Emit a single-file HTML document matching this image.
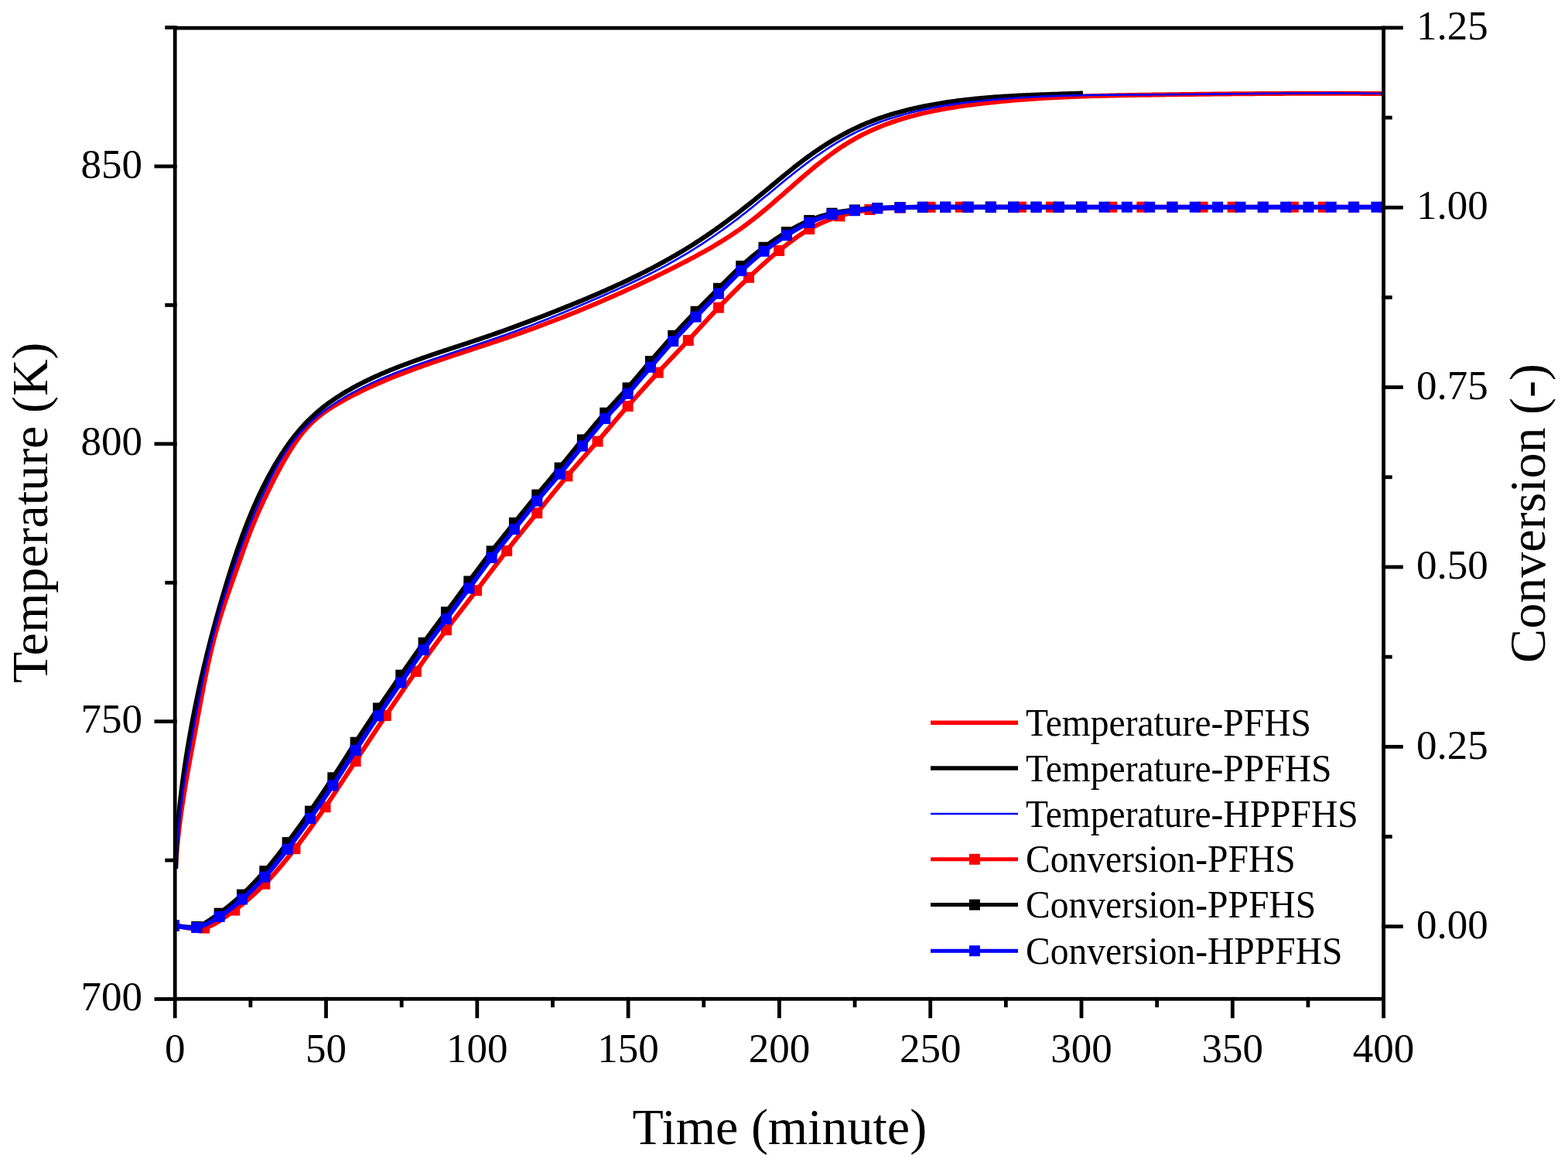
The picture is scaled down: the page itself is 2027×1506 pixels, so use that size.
<!DOCTYPE html>
<html><head><meta charset="utf-8"><title>Temperature and Conversion vs Time</title>
<style>html,body{margin:0;padding:0;background:#fff;overflow:hidden}svg{display:block}</style>
</head><body>
<div id="w">
<svg width="2027" height="1506" viewBox="0 0 2027 1506" font-family="'Liberation Serif', 'Times New Roman', serif" fill="#000">
<defs><clipPath id="pa"><rect x="226.20" y="36.20" width="1562.40" height="1255.10"/></clipPath></defs>
<rect width="2027" height="1506" fill="#fff"/>
<g clip-path="url(#pa)">
<path d="M227.07,1123.00 L227.24,1119.48 L227.44,1115.97 L227.65,1112.46 L227.89,1108.96 L228.14,1105.45 L228.41,1101.95 L228.70,1098.45 L229.00,1094.96 L229.32,1091.46 L229.66,1087.97 L230.01,1084.48 L230.38,1080.99 L230.76,1077.50 L231.16,1074.02 L231.57,1070.54 L231.99,1067.06 L232.43,1063.58 L232.88,1060.10 L233.35,1056.63 L233.82,1053.16 L234.31,1049.68 L234.81,1046.21 L235.32,1042.74 L235.84,1039.28 L236.36,1035.81 L236.90,1032.35 L237.45,1028.88 L238.01,1025.42 L238.57,1021.96 L239.14,1018.50 L239.72,1015.04 L240.31,1011.58 L240.90,1008.12 L241.50,1004.66 L242.11,1001.20 L242.72,997.75 L243.33,994.29 L243.95,990.84 L244.58,987.38 L245.20,983.93 L245.83,980.47 L246.47,977.02 L247.10,973.57 L247.74,970.11 L248.38,966.66 L249.02,963.21 L249.66,959.75 L250.30,956.30 L250.94,952.85 L251.58,949.39 L252.22,945.94 L252.86,942.48 L253.50,939.03 L254.13,935.57 L254.76,932.11 L255.39,928.66 L256.03,925.20 L256.66,921.75 L257.29,918.29 L257.93,914.83 L258.56,911.38 L259.20,907.92 L259.85,904.47 L260.49,901.02 L261.14,897.57 L261.80,894.12 L262.46,890.67 L263.13,887.22 L263.80,883.78 L264.48,880.33 L265.17,876.89 L265.87,873.45 L266.57,870.02 L267.29,866.58 L268.01,863.15 L268.75,859.72 L269.50,856.30 L270.26,852.87 L271.03,849.45 L271.82,846.04 L272.61,842.62 L273.43,839.21 L274.25,835.81 L275.10,832.41 L275.95,829.01 L276.83,825.61 L277.72,822.23 L278.63,818.84 L279.56,815.46 L280.50,812.09 L281.47,808.72 L282.45,805.35 L283.46,801.99 L284.48,798.63 L285.52,795.28 L286.58,791.94 L287.66,788.60 L288.74,785.26 L289.85,781.92 L290.96,778.59 L292.09,775.26 L293.22,771.94 L294.37,768.61 L295.52,765.29 L296.69,761.98 L297.85,758.66 L299.03,755.35 L300.20,752.03 L301.38,748.72 L302.56,745.41 L303.75,742.10 L304.93,738.79 L306.11,735.48 L307.29,732.18 L308.46,728.87 L309.64,725.56 L310.81,722.25 L311.98,718.94 L313.15,715.63 L314.32,712.33 L315.50,709.03 L316.69,705.73 L317.88,702.44 L319.09,699.15 L320.31,695.86 L321.54,692.59 L322.78,689.31 L324.04,686.05 L325.32,682.79 L326.62,679.54 L327.95,676.30 L329.29,673.07 L330.65,669.85 L332.03,666.63 L333.43,663.42 L334.84,660.22 L336.28,657.03 L337.73,653.84 L339.19,650.66 L340.67,647.49 L342.16,644.32 L343.66,641.16 L345.17,638.00 L346.70,634.85 L348.24,631.71 L349.78,628.57 L351.34,625.43 L352.92,622.31 L354.50,619.19 L356.11,616.08 L357.73,612.97 L359.36,609.88 L361.02,606.79 L362.69,603.71 L364.39,600.65 L366.11,597.59 L367.85,594.55 L369.61,591.51 L371.40,588.49 L373.21,585.48 L375.05,582.48 L376.92,579.50 L378.83,576.54 L380.77,573.61 L382.75,570.71 L384.77,567.84 L386.84,565.01 L388.96,562.23 L391.13,559.49 L393.35,556.81 L395.64,554.18 L397.98,551.61 L400.39,549.11 L402.86,546.67 L405.39,544.30 L407.99,541.99 L410.64,539.75 L413.34,537.57 L416.10,535.44 L418.90,533.36 L421.75,531.34 L424.64,529.37 L427.56,527.44 L430.52,525.55 L433.51,523.71 L436.53,521.90 L439.58,520.13 L442.64,518.39 L445.72,516.68 L448.82,514.99 L451.93,513.34 L455.05,511.70 L458.18,510.09 L461.33,508.51 L464.48,506.94 L467.64,505.39 L470.80,503.87 L473.98,502.37 L477.17,500.88 L480.36,499.42 L483.57,497.97 L486.78,496.55 L490.00,495.14 L493.22,493.75 L496.46,492.37 L499.70,491.01 L502.94,489.67 L506.19,488.34 L509.45,487.03 L512.72,485.73 L515.99,484.45 L519.26,483.18 L522.54,481.92 L525.83,480.68 L529.12,479.44 L532.41,478.22 L535.71,477.01 L539.01,475.80 L542.31,474.61 L545.62,473.43 L548.93,472.25 L552.24,471.09 L555.56,469.93 L558.87,468.78 L562.19,467.63 L565.51,466.50 L568.83,465.36 L572.16,464.24 L575.48,463.11 L578.80,461.99 L582.13,460.88 L585.45,459.77 L588.78,458.66 L592.11,457.55 L595.43,456.45 L598.76,455.35 L602.09,454.25 L605.41,453.15 L608.74,452.05 L612.07,450.95 L615.40,449.86 L618.72,448.76 L622.05,447.66 L625.38,446.56 L628.70,445.46 L632.03,444.35 L635.35,443.25 L638.67,442.14 L642.00,441.03 L645.32,439.91 L648.64,438.79 L651.96,437.67 L655.28,436.54 L658.59,435.40 L661.91,434.26 L665.22,433.12 L668.54,431.97 L671.85,430.81 L675.16,429.64 L678.46,428.47 L681.77,427.29 L685.07,426.10 L688.37,424.90 L691.67,423.70 L694.97,422.48 L698.27,421.26 L701.56,420.03 L704.85,418.80 L708.14,417.56 L711.42,416.31 L714.71,415.05 L717.99,413.78 L721.27,412.51 L724.54,411.23 L727.81,409.95 L731.08,408.66 L734.35,407.36 L737.61,406.05 L740.87,404.74 L744.12,403.42 L747.37,402.10 L750.62,400.76 L753.87,399.43 L757.11,398.08 L760.35,396.73 L763.58,395.38 L766.81,394.02 L770.04,392.65 L773.26,391.28 L776.48,389.90 L779.70,388.51 L782.91,387.12 L786.12,385.72 L789.32,384.32 L792.53,382.91 L795.73,381.49 L798.92,380.07 L802.12,378.64 L805.31,377.20 L808.50,375.76 L811.68,374.31 L814.86,372.86 L818.04,371.39 L821.22,369.93 L824.39,368.45 L827.57,366.97 L830.74,365.48 L833.91,363.98 L837.07,362.48 L840.23,360.97 L843.40,359.46 L846.56,357.93 L849.71,356.40 L852.87,354.87 L856.02,353.32 L859.18,351.77 L862.33,350.21 L865.47,348.65 L868.62,347.07 L871.77,345.49 L874.91,343.91 L878.05,342.31 L881.19,340.70 L884.33,339.09 L887.46,337.47 L890.59,335.83 L893.71,334.19 L896.82,332.53 L899.93,330.86 L903.03,329.18 L906.12,327.48 L909.20,325.77 L912.28,324.05 L915.34,322.31 L918.39,320.56 L921.43,318.79 L924.46,317.00 L927.48,315.20 L930.49,313.38 L933.48,311.54 L936.45,309.68 L939.41,307.81 L942.36,305.91 L945.29,303.99 L948.20,302.06 L951.10,300.10 L953.97,298.11 L956.83,296.11 L959.67,294.08 L962.49,292.03 L965.29,289.96 L968.07,287.86 L970.83,285.74 L973.58,283.61 L976.31,281.45 L979.03,279.28 L981.74,277.09 L984.43,274.89 L987.12,272.67 L989.79,270.43 L992.46,268.19 L995.11,265.93 L997.76,263.66 L1000.41,261.39 L1003.05,259.10 L1005.68,256.81 L1008.31,254.51 L1010.95,252.20 L1013.58,249.90 L1016.21,247.58 L1018.84,245.27 L1021.47,242.95 L1024.11,240.64 L1026.75,238.32 L1029.40,236.01 L1032.06,233.70 L1034.72,231.39 L1037.39,229.09 L1040.07,226.79 L1042.76,224.50 L1045.46,222.22 L1048.17,219.94 L1050.90,217.68 L1053.64,215.43 L1056.40,213.20 L1059.16,210.98 L1061.95,208.78 L1064.74,206.59 L1067.56,204.43 L1070.38,202.29 L1073.23,200.18 L1076.09,198.10 L1078.96,196.04 L1081.86,194.01 L1084.77,192.01 L1087.70,190.05 L1090.64,188.13 L1093.61,186.24 L1096.59,184.39 L1099.59,182.58 L1102.61,180.81 L1105.65,179.09 L1108.71,177.41 L1111.79,175.77 L1114.88,174.17 L1117.99,172.61 L1121.12,171.09 L1124.27,169.61 L1127.43,168.17 L1130.61,166.77 L1133.81,165.40 L1137.02,164.07 L1140.24,162.78 L1143.48,161.52 L1146.74,160.29 L1150.00,159.10 L1153.29,157.94 L1156.58,156.82 L1159.88,155.72 L1163.20,154.66 L1166.53,153.63 L1169.87,152.63 L1173.23,151.65 L1176.59,150.71 L1179.96,149.79 L1183.35,148.91 L1186.74,148.04 L1190.14,147.21 L1193.55,146.40 L1196.97,145.61 L1200.40,144.85 L1203.83,144.11 L1207.27,143.40 L1210.72,142.71 L1214.17,142.04 L1217.63,141.39 L1221.10,140.76 L1224.57,140.15 L1228.05,139.55 L1231.53,138.98 L1235.01,138.43 L1238.50,137.89 L1241.99,137.37 L1245.48,136.86 L1248.98,136.37 L1252.48,135.89 L1255.98,135.43 L1259.48,134.98 L1262.98,134.55 L1266.48,134.12 L1269.98,133.71 L1273.49,133.31 L1276.99,132.91 L1280.49,132.53 L1283.99,132.16 L1287.49,131.80 L1290.99,131.45 L1294.50,131.11 L1298.00,130.77 L1301.50,130.45 L1305.00,130.14 L1308.50,129.83 L1312.00,129.54 L1315.50,129.25 L1319.00,128.97 L1322.50,128.70 L1326.00,128.44 L1329.50,128.18 L1333.00,127.94 L1336.49,127.70 L1339.99,127.47 L1343.49,127.25 L1346.99,127.03 L1350.49,126.82 L1353.99,126.62 L1357.49,126.43 L1360.99,126.24 L1364.49,126.06 L1367.99,125.88 L1371.49,125.71 L1374.98,125.55 L1378.48,125.39 L1381.98,125.24 L1385.48,125.10 L1388.98,124.96 L1392.48,124.82 L1395.98,124.69 L1399.48,124.57 L1402.98,124.45 L1406.48,124.34 L1409.98,124.23 L1413.48,124.12 L1416.98,124.02 L1420.48,123.92 L1423.98,123.83 L1427.48,123.74 L1430.98,123.65 L1434.49,123.57 L1437.99,123.49 L1441.49,123.41 L1444.99,123.34 L1448.49,123.27 L1452.00,123.20 L1455.50,123.13 L1459.00,123.07 L1462.51,123.01 L1466.01,122.95 L1469.51,122.89 L1473.02,122.84 L1476.52,122.78 L1480.03,122.73 L1483.54,122.68 L1487.04,122.63 L1490.55,122.58 L1494.05,122.53 L1497.56,122.48 L1501.07,122.43 L1504.58,122.39 L1508.09,122.34 L1511.60,122.29 L1515.11,122.25 L1518.62,122.20 L1522.13,122.16 L1525.64,122.11 L1529.15,122.07 L1532.66,122.02 L1536.17,121.98 L1539.68,121.94 L1543.19,121.90 L1546.71,121.85 L1550.22,121.81 L1553.73,121.77 L1557.24,121.73 L1560.76,121.69 L1564.27,121.65 L1567.79,121.62 L1571.30,121.58 L1574.81,121.54 L1578.33,121.50 L1581.84,121.47 L1585.36,121.43 L1588.87,121.40 L1592.39,121.37 L1595.90,121.33 L1599.42,121.30 L1602.93,121.27 L1606.45,121.24 L1609.96,121.21 L1613.48,121.18 L1616.99,121.15 L1620.51,121.13 L1624.02,121.10 L1627.54,121.07 L1631.05,121.05 L1634.57,121.02 L1638.08,121.00 L1641.60,120.98 L1645.11,120.96 L1648.63,120.94 L1652.14,120.92 L1655.66,120.90 L1659.17,120.88 L1662.68,120.87 L1666.20,120.85 L1669.71,120.84 L1673.23,120.83 L1676.74,120.81 L1680.25,120.80 L1683.76,120.79 L1687.28,120.78 L1690.79,120.78 L1694.30,120.77 L1697.81,120.76 L1701.33,120.76 L1704.84,120.76 L1708.35,120.76 L1711.86,120.75 L1715.37,120.76 L1718.88,120.76 L1722.39,120.76 L1725.90,120.76 L1729.41,120.77 L1732.91,120.78 L1736.42,120.79 L1739.93,120.79 L1743.44,120.81 L1746.94,120.82 L1750.45,120.83 L1753.95,120.85 L1757.46,120.86 L1760.96,120.88 L1764.47,120.90 L1767.97,120.92 L1771.47,120.94 L1774.97,120.97 L1778.48,120.99 L1781.98,121.02 L1785.48,121.05 L1788.98,121.08" stroke="#ff0000" stroke-width="6" fill="none" stroke-linejoin="round"/>
<path d="M227.14,1122.95 L227.20,1120.09 L227.28,1117.23 L227.36,1114.37 L227.45,1111.50 L227.55,1108.64 L227.66,1105.78 L227.77,1102.92 L227.90,1100.05 L228.04,1097.19 L228.18,1094.32 L228.34,1091.46 L228.50,1088.59 L228.67,1085.72 L228.85,1082.86 L229.04,1079.99 L229.24,1077.13 L229.44,1074.26 L229.65,1071.39 L229.88,1068.53 L230.11,1065.66 L230.35,1062.79 L230.59,1059.93 L230.85,1057.06 L231.11,1054.19 L231.38,1051.33 L231.66,1048.46 L231.94,1045.60 L232.23,1042.73 L232.54,1039.87 L232.84,1037.00 L233.16,1034.14 L233.48,1031.27 L233.81,1028.41 L234.15,1025.55 L234.49,1022.68 L234.84,1019.82 L235.20,1016.96 L235.57,1014.10 L235.94,1011.24 L236.32,1008.38 L236.70,1005.53 L237.10,1002.67 L237.50,999.81 L237.90,996.96 L238.31,994.10 L238.73,991.25 L239.15,988.40 L239.58,985.54 L240.02,982.69 L240.46,979.84 L240.91,977.00 L241.36,974.15 L241.82,971.30 L242.29,968.46 L242.76,965.61 L243.24,962.77 L243.72,959.93 L244.21,957.09 L244.70,954.26 L245.20,951.42 L245.70,948.58 L246.21,945.75 L246.73,942.92 L247.25,940.09 L247.77,937.26 L248.30,934.44 L248.83,931.61 L249.37,928.79 L249.91,925.97 L250.46,923.15 L251.02,920.33 L251.57,917.51 L252.14,914.69 L252.71,911.88 L253.28,909.07 L253.86,906.26 L254.44,903.45 L255.03,900.64 L255.62,897.83 L256.22,895.03 L256.82,892.23 L257.43,889.42 L258.04,886.62 L258.65,883.82 L259.28,881.03 L259.90,878.23 L260.53,875.43 L261.17,872.64 L261.81,869.85 L262.46,867.06 L263.11,864.27 L263.76,861.48 L264.42,858.69 L265.09,855.90 L265.76,853.12 L266.43,850.33 L267.11,847.55 L267.80,844.77 L268.49,841.99 L269.18,839.21 L269.88,836.43 L270.58,833.65 L271.29,830.87 L272.00,828.10 L272.72,825.32 L273.44,822.55 L274.17,819.78 L274.90,817.00 L275.64,814.23 L276.38,811.46 L277.13,808.70 L277.88,805.93 L278.63,803.16 L279.39,800.39 L280.16,797.63 L280.93,794.86 L281.70,792.10 L282.48,789.34 L283.26,786.57 L284.05,783.81 L284.85,781.05 L285.64,778.29 L286.45,775.53 L287.25,772.77 L288.07,770.02 L288.88,767.26 L289.70,764.50 L290.53,761.75 L291.36,758.99 L292.20,756.24 L293.04,753.48 L293.88,750.73 L294.73,747.98 L295.59,745.22 L296.44,742.47 L297.31,739.72 L298.18,736.97 L299.05,734.22 L299.94,731.48 L300.82,728.73 L301.72,725.99 L302.62,723.25 L303.53,720.51 L304.44,717.77 L305.36,715.03 L306.29,712.30 L307.23,709.57 L308.17,706.84 L309.12,704.12 L310.09,701.40 L311.05,698.68 L312.03,695.97 L313.02,693.26 L314.02,690.55 L315.02,687.85 L316.04,685.15 L317.06,682.45 L318.10,679.76 L319.15,677.08 L320.20,674.40 L321.27,671.72 L322.35,669.05 L323.44,666.38 L324.54,663.72 L325.65,661.07 L326.78,658.42 L327.91,655.77 L329.06,653.14 L330.22,650.50 L331.40,647.88 L332.58,645.26 L333.78,642.65 L335.00,640.04 L336.23,637.44 L337.47,634.85 L338.72,632.27 L339.99,629.69 L341.28,627.12 L342.58,624.56 L343.89,622.00 L345.22,619.46 L346.56,616.92 L347.92,614.39 L349.30,611.87 L350.69,609.36 L352.10,606.85 L353.53,604.36 L354.97,601.87 L356.43,599.40 L357.90,596.93 L359.40,594.47 L360.91,592.03 L362.44,589.59 L363.99,587.17 L365.55,584.76 L367.14,582.37 L368.75,579.98 L370.38,577.62 L372.03,575.27 L373.70,572.94 L375.39,570.63 L377.10,568.33 L378.84,566.06 L380.60,563.80 L382.38,561.57 L384.19,559.35 L386.01,557.16 L387.87,555.00 L389.75,552.85 L391.65,550.73 L393.58,548.64 L395.54,546.57 L397.52,544.53 L399.53,542.52 L401.57,540.54 L403.63,538.58 L405.72,536.66 L407.84,534.76 L409.98,532.89 L412.15,531.05 L414.34,529.23 L416.56,527.44 L418.80,525.68 L421.06,523.95 L423.34,522.23 L425.65,520.55 L427.97,518.89 L430.32,517.25 L432.68,515.64 L435.07,514.05 L437.47,512.48 L439.89,510.94 L442.33,509.42 L444.78,507.92 L447.25,506.44 L449.73,504.98 L452.23,503.55 L454.75,502.13 L457.27,500.74 L459.81,499.36 L462.36,498.01 L464.93,496.67 L467.50,495.35 L470.08,494.05 L472.68,492.77 L475.28,491.50 L477.89,490.25 L480.51,489.02 L483.14,487.80 L485.77,486.60 L488.41,485.42 L491.06,484.25 L493.71,483.09 L496.36,481.95 L499.02,480.82 L501.69,479.70 L504.36,478.60 L507.03,477.51 L509.71,476.44 L512.39,475.37 L515.07,474.32 L517.76,473.27 L520.46,472.24 L523.15,471.22 L525.85,470.21 L528.56,469.20 L531.26,468.21 L533.97,467.22 L536.68,466.25 L539.40,465.28 L542.12,464.32 L544.83,463.36 L547.56,462.41 L550.28,461.47 L553.00,460.53 L555.73,459.60 L558.46,458.68 L561.19,457.76 L563.92,456.84 L566.65,455.93 L569.38,455.02 L572.11,454.11 L574.85,453.21 L577.58,452.31 L580.32,451.41 L583.05,450.51 L585.79,449.61 L588.52,448.71 L591.26,447.82 L593.99,446.92 L596.72,446.03 L599.46,445.13 L602.19,444.23 L604.92,443.33 L607.65,442.43 L610.38,441.52 L613.10,440.62 L615.83,439.70 L618.55,438.79 L621.27,437.87 L623.99,436.95 L626.71,436.02 L629.43,435.09 L632.14,434.16 L634.85,433.22 L637.56,432.27 L640.27,431.32 L642.97,430.37 L645.68,429.42 L648.38,428.46 L651.08,427.49 L653.78,426.53 L656.48,425.55 L659.18,424.58 L661.87,423.60 L664.57,422.62 L667.26,421.63 L669.95,420.64 L672.64,419.64 L675.33,418.65 L678.02,417.64 L680.70,416.64 L683.39,415.63 L686.07,414.62 L688.76,413.60 L691.44,412.58 L694.12,411.56 L696.80,410.53 L699.48,409.50 L702.16,408.46 L704.84,407.43 L707.52,406.39 L710.19,405.34 L712.87,404.29 L715.54,403.24 L718.22,402.19 L720.89,401.13 L723.57,400.07 L726.24,399.01 L728.91,397.94 L731.59,396.87 L734.26,395.79 L736.93,394.71 L739.59,393.63 L742.26,392.54 L744.93,391.45 L747.59,390.36 L750.26,389.26 L752.92,388.15 L755.58,387.05 L758.24,385.93 L760.89,384.81 L763.55,383.69 L766.20,382.56 L768.85,381.43 L771.50,380.29 L774.14,379.14 L776.79,377.99 L779.43,376.84 L782.07,375.68 L784.70,374.51 L787.33,373.34 L789.96,372.16 L792.59,370.97 L795.21,369.78 L797.83,368.58 L800.45,367.38 L803.06,366.17 L805.67,364.95 L808.28,363.72 L810.88,362.49 L813.48,361.25 L816.08,360.01 L818.67,358.75 L821.26,357.49 L823.84,356.22 L826.42,354.95 L829.00,353.66 L831.57,352.37 L834.13,351.07 L836.69,349.76 L839.25,348.45 L841.80,347.12 L844.35,345.79 L846.89,344.45 L849.43,343.10 L851.96,341.74 L854.49,340.38 L857.01,339.00 L859.53,337.61 L862.04,336.22 L864.54,334.82 L867.04,333.40 L869.53,331.98 L872.02,330.55 L874.50,329.10 L876.98,327.65 L879.45,326.19 L881.91,324.72 L884.36,323.24 L886.81,321.74 L889.26,320.24 L891.69,318.73 L894.12,317.20 L896.55,315.67 L898.96,314.12 L901.37,312.57 L903.78,311.00 L906.17,309.42 L908.56,307.84 L910.95,306.24 L913.32,304.64 L915.69,303.02 L918.06,301.40 L920.42,299.76 L922.77,298.12 L925.12,296.47 L927.46,294.81 L929.80,293.14 L932.13,291.46 L934.45,289.77 L936.77,288.08 L939.09,286.38 L941.40,284.67 L943.70,282.95 L946.00,281.23 L948.30,279.50 L950.59,277.76 L952.87,276.01 L955.15,274.26 L957.43,272.50 L959.70,270.73 L961.97,268.96 L964.23,267.19 L966.49,265.40 L968.75,263.61 L971.00,261.82 L973.25,260.02 L975.49,258.21 L977.73,256.40 L979.97,254.59 L982.20,252.77 L984.43,250.94 L986.66,249.11 L988.88,247.28 L991.11,245.44 L993.33,243.60 L995.55,241.76 L997.76,239.92 L999.98,238.08 L1002.20,236.24 L1004.42,234.40 L1006.64,232.56 L1008.86,230.73 L1011.09,228.89 L1013.31,227.06 L1015.54,225.24 L1017.78,223.42 L1020.02,221.61 L1022.26,219.81 L1024.51,218.01 L1026.76,216.22 L1029.02,214.44 L1031.29,212.67 L1033.57,210.91 L1035.85,209.16 L1038.14,207.42 L1040.44,205.69 L1042.75,203.98 L1045.07,202.28 L1047.39,200.60 L1049.73,198.93 L1052.08,197.27 L1054.44,195.63 L1056.82,194.01 L1059.20,192.41 L1061.59,190.82 L1063.99,189.24 L1066.40,187.69 L1068.83,186.15 L1071.26,184.63 L1073.70,183.13 L1076.16,181.64 L1078.63,180.18 L1081.10,178.73 L1083.59,177.31 L1086.09,175.90 L1088.59,174.52 L1091.11,173.15 L1093.64,171.81 L1096.18,170.48 L1098.73,169.18 L1101.30,167.90 L1103.87,166.64 L1106.45,165.41 L1109.05,164.20 L1111.65,163.01 L1114.27,161.84 L1116.89,160.70 L1119.53,159.58 L1122.18,158.49 L1124.84,157.42 L1127.51,156.38 L1130.19,155.36 L1132.88,154.36 L1135.58,153.38 L1138.28,152.43 L1141.00,151.50 L1143.72,150.59 L1146.46,149.71 L1149.20,148.84 L1151.94,147.99 L1154.70,147.17 L1157.46,146.36 L1160.23,145.58 L1163.00,144.81 L1165.78,144.06 L1168.56,143.33 L1171.35,142.62 L1174.15,141.92 L1176.95,141.25 L1179.75,140.58 L1182.55,139.94 L1185.36,139.31 L1188.18,138.70 L1190.99,138.10 L1193.81,137.52 L1196.63,136.96 L1199.46,136.40 L1202.28,135.87 L1205.11,135.34 L1207.94,134.84 L1210.78,134.34 L1213.62,133.86 L1216.46,133.39 L1219.30,132.94 L1222.14,132.50 L1224.99,132.07 L1227.84,131.65 L1230.69,131.25 L1233.54,130.85 L1236.39,130.47 L1239.25,130.10 L1242.11,129.75 L1244.96,129.40 L1247.83,129.06 L1250.69,128.74 L1253.55,128.42 L1256.42,128.12 L1259.28,127.82 L1262.15,127.53 L1265.02,127.26 L1267.89,126.99 L1270.76,126.73 L1273.63,126.48 L1276.51,126.24 L1279.38,126.01 L1282.25,125.78 L1285.13,125.57 L1288.01,125.36 L1290.88,125.15 L1293.76,124.96 L1296.64,124.77 L1299.51,124.59 L1302.39,124.41 L1305.27,124.24 L1308.15,124.08 L1311.03,123.92 L1313.90,123.76 L1316.78,123.61 L1319.66,123.47 L1322.54,123.33 L1325.42,123.20 L1328.29,123.07 L1331.17,122.94 L1334.05,122.82 L1336.92,122.70 L1339.80,122.59 L1342.67,122.47 L1345.55,122.36 L1348.42,122.26 L1351.29,122.15 L1354.16,122.05 L1357.03,121.95 L1359.90,121.85 L1362.77,121.75 L1365.63,121.65 L1368.50,121.56 L1371.36,121.46 L1374.22,121.36 L1377.08,121.27 L1379.94,121.17 L1382.80,121.08 L1385.66,120.98 L1388.51,120.89 L1391.36,120.79 L1394.21,120.69 L1397.06,120.59 L1399.90,120.49" stroke="#000000" stroke-width="6" fill="none" stroke-linejoin="round"/>
<path d="M227.14,1123.00 L227.25,1119.48 L227.38,1115.96 L227.53,1112.44 L227.69,1108.93 L227.87,1105.41 L228.07,1101.90 L228.29,1098.39 L228.52,1094.88 L228.77,1091.37 L229.04,1087.87 L229.32,1084.36 L229.61,1080.86 L229.92,1077.36 L230.25,1073.86 L230.59,1070.36 L230.94,1066.87 L231.31,1063.37 L231.69,1059.88 L232.08,1056.39 L232.48,1052.90 L232.90,1049.41 L233.33,1045.92 L233.77,1042.43 L234.22,1038.95 L234.69,1035.46 L235.16,1031.98 L235.64,1028.50 L236.14,1025.02 L236.64,1021.54 L237.15,1018.06 L237.68,1014.58 L238.21,1011.10 L238.75,1007.63 L239.29,1004.15 L239.85,1000.68 L240.41,997.21 L240.98,993.74 L241.55,990.27 L242.13,986.80 L242.72,983.33 L243.31,979.86 L243.91,976.39 L244.52,972.93 L245.13,969.46 L245.74,966.00 L246.35,962.53 L246.97,959.07 L247.60,955.61 L248.22,952.15 L248.85,948.68 L249.49,945.22 L250.12,941.76 L250.76,938.30 L251.39,934.85 L252.03,931.39 L252.67,927.93 L253.32,924.47 L253.96,921.02 L254.62,917.56 L255.27,914.11 L255.93,910.65 L256.59,907.20 L257.26,903.75 L257.93,900.30 L258.61,896.85 L259.29,893.40 L259.98,889.96 L260.67,886.51 L261.37,883.07 L262.08,879.63 L262.80,876.19 L263.52,872.75 L264.25,869.32 L264.99,865.88 L265.74,862.45 L266.49,859.02 L267.26,855.59 L268.03,852.16 L268.82,848.74 L269.61,845.32 L270.42,841.90 L271.23,838.48 L272.06,835.07 L272.90,831.65 L273.75,828.24 L274.61,824.84 L275.49,821.43 L276.38,818.03 L277.28,814.63 L278.19,811.23 L279.12,807.84 L280.06,804.45 L281.01,801.06 L281.98,797.68 L282.96,794.30 L283.96,790.92 L284.97,787.55 L285.98,784.17 L287.01,780.80 L288.05,777.44 L289.11,774.08 L290.17,770.72 L291.24,767.36 L292.32,764.01 L293.41,760.66 L294.50,757.31 L295.61,753.97 L296.72,750.63 L297.84,747.30 L298.96,743.96 L300.10,740.63 L301.24,737.31 L302.38,733.99 L303.53,730.67 L304.68,727.35 L305.84,724.04 L307.00,720.73 L308.17,717.43 L309.35,714.13 L310.53,710.83 L311.73,707.54 L312.93,704.25 L314.15,700.97 L315.37,697.70 L316.61,694.42 L317.86,691.16 L319.12,687.90 L320.40,684.64 L321.69,681.39 L323.00,678.15 L324.33,674.91 L325.66,671.68 L327.02,668.45 L328.39,665.23 L329.77,662.01 L331.17,658.80 L332.58,655.59 L334.01,652.38 L335.45,649.18 L336.90,645.98 L338.36,642.78 L339.84,639.59 L341.33,636.39 L342.83,633.20 L344.35,630.02 L345.88,626.83 L347.42,623.66 L348.99,620.49 L350.57,617.33 L352.17,614.18 L353.79,611.04 L355.44,607.92 L357.12,604.81 L358.82,601.72 L360.55,598.65 L362.30,595.60 L364.10,592.57 L365.92,589.57 L367.78,586.59 L369.67,583.64 L371.60,580.72 L373.58,577.83 L375.59,574.97 L377.65,572.14 L379.75,569.36 L381.90,566.61 L384.09,563.91 L386.34,561.24 L388.63,558.63 L390.98,556.06 L393.38,553.53 L395.82,551.05 L398.31,548.61 L400.85,546.22 L403.42,543.87 L406.04,541.56 L408.70,539.29 L411.39,537.06 L414.13,534.87 L416.89,532.72 L419.69,530.61 L422.53,528.53 L425.39,526.49 L428.28,524.49 L431.20,522.52 L434.14,520.59 L437.11,518.69 L440.09,516.83 L443.10,515.00 L446.13,513.20 L449.18,511.43 L452.24,509.69 L455.32,507.98 L458.41,506.30 L461.51,504.65 L464.63,503.03 L467.77,501.43 L470.91,499.86 L474.07,498.32 L477.24,496.80 L480.43,495.30 L483.62,493.83 L486.83,492.38 L490.04,490.95 L493.27,489.54 L496.50,488.15 L499.75,486.78 L503.00,485.44 L506.26,484.10 L509.53,482.79 L512.81,481.49 L516.10,480.21 L519.39,478.95 L522.68,477.69 L525.99,476.46 L529.30,475.23 L532.61,474.02 L535.93,472.82 L539.25,471.63 L542.58,470.45 L545.90,469.27 L549.24,468.11 L552.57,466.96 L555.91,465.81 L559.24,464.67 L562.58,463.53 L565.92,462.40 L569.26,461.27 L572.60,460.15 L575.94,459.03 L579.28,457.91 L582.62,456.79 L585.96,455.68 L589.29,454.56 L592.63,453.45 L595.97,452.34 L599.30,451.23 L602.63,450.11 L605.97,449.00 L609.30,447.89 L612.63,446.77 L615.96,445.66 L619.29,444.54 L622.61,443.42 L625.94,442.29 L629.26,441.16 L632.58,440.03 L635.90,438.90 L639.22,437.76 L642.53,436.61 L645.85,435.46 L649.16,434.31 L652.47,433.15 L655.78,431.98 L659.08,430.80 L662.38,429.62 L665.68,428.43 L668.98,427.23 L672.28,426.03 L675.57,424.81 L678.86,423.59 L682.14,422.36 L685.43,421.11 L688.71,419.86 L691.98,418.60 L695.26,417.33 L698.53,416.05 L701.80,414.77 L705.07,413.47 L708.33,412.17 L711.59,410.86 L714.85,409.55 L718.11,408.23 L721.37,406.90 L724.62,405.56 L727.87,404.22 L731.12,402.88 L734.37,401.52 L737.62,400.17 L740.86,398.81 L744.10,397.44 L747.35,396.07 L750.59,394.70 L753.82,393.32 L757.06,391.94 L760.30,390.56 L763.53,389.17 L766.76,387.78 L769.99,386.39 L773.22,384.99 L776.45,383.59 L779.67,382.19 L782.89,380.77 L786.11,379.36 L789.33,377.93 L792.54,376.50 L795.75,375.07 L798.96,373.63 L802.16,372.17 L805.36,370.72 L808.55,369.25 L811.74,367.77 L814.92,366.29 L818.10,364.79 L821.28,363.28 L824.45,361.77 L827.61,360.24 L830.77,358.70 L833.92,357.15 L837.06,355.59 L840.20,354.01 L843.33,352.43 L846.46,350.82 L849.57,349.21 L852.68,347.58 L855.79,345.94 L858.88,344.28 L861.97,342.60 L865.05,340.91 L868.12,339.21 L871.18,337.48 L874.23,335.74 L877.28,333.99 L880.31,332.21 L883.34,330.42 L886.35,328.62 L889.36,326.80 L892.36,324.96 L895.35,323.11 L898.33,321.24 L901.30,319.36 L904.26,317.46 L907.22,315.54 L910.16,313.62 L913.09,311.68 L916.02,309.72 L918.93,307.75 L921.84,305.77 L924.73,303.77 L927.62,301.76 L930.50,299.73 L933.36,297.70 L936.22,295.65 L939.07,293.58 L941.91,291.51 L944.73,289.42 L947.55,287.32 L950.36,285.21 L953.15,283.09 L955.94,280.95 L958.72,278.80 L961.48,276.65 L964.24,274.48 L966.99,272.30 L969.73,270.11 L972.46,267.92 L975.19,265.71 L977.90,263.50 L980.62,261.29 L983.33,259.07 L986.03,256.84 L988.74,254.61 L991.44,252.38 L994.14,250.15 L996.84,247.92 L999.54,245.68 L1002.25,243.45 L1004.95,241.22 L1007.66,238.99 L1010.37,236.76 L1013.09,234.54 L1015.81,232.33 L1018.54,230.11 L1021.27,227.91 L1024.02,225.71 L1026.77,223.52 L1029.53,221.34 L1032.30,219.17 L1035.09,217.01 L1037.88,214.86 L1040.69,212.73 L1043.51,210.60 L1046.35,208.49 L1049.20,206.40 L1052.06,204.32 L1054.94,202.26 L1057.84,200.22 L1060.75,198.20 L1063.68,196.20 L1066.62,194.22 L1069.57,192.27 L1072.54,190.34 L1075.53,188.44 L1078.53,186.56 L1081.55,184.72 L1084.58,182.91 L1087.63,181.13 L1090.69,179.38 L1093.77,177.66 L1096.86,175.99 L1099.97,174.35 L1103.10,172.74 L1106.24,171.18 L1109.39,169.65 L1112.56,168.16 L1115.74,166.71 L1118.94,165.29 L1122.15,163.91 L1125.38,162.56 L1128.62,161.25 L1131.87,159.97 L1135.13,158.73 L1138.40,157.51 L1141.69,156.33 L1144.99,155.18 L1148.30,154.07 L1151.62,152.98 L1154.95,151.92 L1158.29,150.89 L1161.65,149.89 L1165.01,148.92 L1168.38,147.98 L1171.76,147.06 L1175.15,146.17 L1178.54,145.31 L1181.95,144.48 L1185.36,143.66 L1188.78,142.88 L1192.21,142.11 L1195.65,141.37 L1199.09,140.66 L1202.53,139.96 L1205.99,139.29 L1209.45,138.64 L1212.91,138.01 L1216.38,137.40 L1219.86,136.81 L1223.34,136.24 L1226.82,135.69 L1230.31,135.15 L1233.80,134.64 L1237.29,134.14 L1240.79,133.66 L1244.29,133.19 L1247.79,132.74 L1251.29,132.30 L1254.80,131.88 L1258.30,131.48 L1261.81,131.08 L1265.32,130.70 L1268.83,130.33 L1272.34,129.97 L1275.84,129.63 L1279.35,129.29 L1282.86,128.97 L1286.37,128.66 L1289.88,128.35 L1293.39,128.06 L1296.90,127.78 L1300.41,127.51 L1303.92,127.25 L1307.43,127.00 L1310.94,126.75 L1314.45,126.52 L1317.96,126.30 L1321.47,126.08 L1324.98,125.87 L1328.49,125.68 L1332.00,125.49 L1335.51,125.30 L1339.02,125.13 L1342.53,124.96 L1346.04,124.80 L1349.55,124.65 L1353.06,124.51 L1356.57,124.37 L1360.08,124.24 L1363.59,124.12 L1367.10,124.00 L1370.61,123.89 L1374.12,123.78 L1377.63,123.68 L1381.14,123.59 L1384.65,123.50 L1388.16,123.41 L1391.68,123.33 L1395.19,123.26 L1398.70,123.19 L1402.21,123.12 L1405.72,123.06 L1409.23,123.00 L1412.75,122.95 L1416.26,122.90 L1419.77,122.85 L1423.28,122.81 L1426.80,122.77 L1430.31,122.73 L1433.82,122.69 L1437.34,122.66 L1440.85,122.63 L1444.36,122.60 L1447.88,122.57 L1451.39,122.55 L1454.90,122.52 L1458.42,122.50 L1461.93,122.48 L1465.44,122.46 L1468.96,122.44 L1472.47,122.42 L1475.99,122.40 L1479.50,122.38 L1483.02,122.36 L1486.53,122.34 L1490.05,122.32 L1493.56,122.30 L1497.08,122.27 L1500.60,122.25 L1504.11,122.22 L1507.63,122.20 L1511.14,122.17 L1514.66,122.14 L1518.18,122.11 L1521.69,122.08 L1525.21,122.05 L1528.73,122.02 L1532.25,121.98 L1535.76,121.95 L1539.28,121.92 L1542.80,121.88 L1546.32,121.84 L1549.83,121.81 L1553.35,121.77 L1556.87,121.73 L1560.39,121.69 L1563.91,121.65 L1567.42,121.61 L1570.94,121.58 L1574.46,121.54 L1577.98,121.50 L1581.50,121.46 L1585.02,121.42 L1588.54,121.38 L1592.05,121.34 L1595.57,121.30 L1599.09,121.26 L1602.61,121.22 L1606.13,121.18 L1609.65,121.14 L1613.17,121.10 L1616.69,121.07 L1620.20,121.03 L1623.72,120.99 L1627.24,120.96 L1630.76,120.92 L1634.28,120.89 L1637.80,120.85 L1641.32,120.82 L1644.84,120.79 L1648.35,120.76 L1651.87,120.73 L1655.39,120.70 L1658.91,120.67 L1662.43,120.64 L1665.95,120.62 L1669.46,120.59 L1672.98,120.57 L1676.50,120.55 L1680.02,120.53 L1683.54,120.51 L1687.05,120.49 L1690.57,120.47 L1694.09,120.46 L1697.61,120.45 L1701.12,120.44 L1704.64,120.43 L1708.16,120.42 L1711.67,120.42 L1715.19,120.41 L1718.71,120.41 L1722.22,120.42 L1725.74,120.42 L1729.25,120.42 L1732.77,120.43 L1736.28,120.44 L1739.80,120.45 L1743.32,120.47 L1746.83,120.49 L1750.34,120.51 L1753.86,120.53 L1757.37,120.55 L1760.89,120.58 L1764.40,120.61 L1767.91,120.65 L1771.43,120.68 L1774.94,120.72 L1778.45,120.76 L1781.97,120.81 L1785.48,120.86 L1788.99,120.91" stroke="#0000ff" stroke-width="2.6" fill="none" stroke-linejoin="round"/>
<path d="M225.00,1197.00 C238.03,1197.87 251.51,1202.58 264.11,1199.60 C277.65,1196.39 290.58,1185.68 303.21,1176.60 C316.70,1166.91 329.73,1155.35 342.31,1142.70 C355.87,1129.07 368.70,1113.21 381.42,1097.10 C394.81,1080.14 407.69,1061.73 420.52,1043.20 C433.77,1024.07 446.59,1003.71 459.63,984.00 C472.66,964.31 485.62,944.45 498.74,925.00 C511.69,905.78 524.67,886.63 537.84,868.00 C550.75,849.74 563.80,831.89 576.94,814.30 C589.87,797.00 603.02,780.32 616.05,763.30 C629.09,746.26 642.03,728.90 655.15,712.10 C668.10,695.54 681.18,679.37 694.26,663.20 C707.25,647.14 720.20,630.97 733.37,615.40 C746.28,600.12 759.46,585.62 772.47,570.60 C785.53,555.52 798.46,540.02 811.57,525.10 C824.53,510.36 837.57,495.87 850.68,481.60 C863.64,467.51 876.78,453.96 889.78,440.00 C902.85,425.96 915.71,411.29 928.89,397.60 C941.78,384.21 954.78,371.12 968.00,358.70 C980.86,346.61 993.78,334.61 1007.10,324.00 C1019.87,313.83 1032.75,303.67 1046.20,296.10 C1058.87,288.97 1072.06,283.51 1085.31,279.30 C1098.15,275.22 1111.31,272.80 1124.41,271.00 C1137.39,269.22 1150.48,269.03 1163.52,268.50 C1176.55,267.97 1189.59,267.93 1202.62,267.80 C1215.66,267.67 1228.69,267.72 1241.73,267.70 C1254.76,267.68 1267.80,267.70 1280.84,267.70 C1293.87,267.70 1306.90,267.70 1319.94,267.70 C1332.98,267.70 1346.01,267.70 1359.05,267.70 C1372.08,267.70 1385.12,267.70 1398.15,267.70 C1411.18,267.70 1424.22,267.70 1437.25,267.70 C1450.29,267.70 1463.32,267.70 1476.36,267.70 C1489.39,267.70 1502.43,267.70 1515.46,267.70 C1528.50,267.70 1541.53,267.70 1554.57,267.70 C1567.61,267.70 1580.64,267.70 1593.67,267.70 C1606.71,267.70 1619.74,267.70 1632.78,267.70 C1645.82,267.70 1658.85,267.70 1671.88,267.70 C1684.92,267.70 1697.95,267.70 1710.99,267.70 C1724.03,267.70 1737.06,267.70 1750.10,267.70 C1763.13,267.70 1776.16,267.70 1789.20,267.70" stroke="#ff0000" stroke-width="6" fill="none" stroke-linejoin="round"/>
<g fill="#ff0000"><rect x="218.00" y="1190.00" width="14.0" height="14.0"/><rect x="257.11" y="1192.60" width="14.0" height="14.0"/><rect x="296.21" y="1169.60" width="14.0" height="14.0"/><rect x="335.31" y="1135.70" width="14.0" height="14.0"/><rect x="374.42" y="1090.10" width="14.0" height="14.0"/><rect x="413.52" y="1036.20" width="14.0" height="14.0"/><rect x="452.63" y="977.00" width="14.0" height="14.0"/><rect x="491.74" y="918.00" width="14.0" height="14.0"/><rect x="530.84" y="861.00" width="14.0" height="14.0"/><rect x="569.94" y="807.30" width="14.0" height="14.0"/><rect x="609.05" y="756.30" width="14.0" height="14.0"/><rect x="648.15" y="705.10" width="14.0" height="14.0"/><rect x="687.26" y="656.20" width="14.0" height="14.0"/><rect x="726.37" y="608.40" width="14.0" height="14.0"/><rect x="765.47" y="563.60" width="14.0" height="14.0"/><rect x="804.57" y="518.10" width="14.0" height="14.0"/><rect x="843.68" y="474.60" width="14.0" height="14.0"/><rect x="882.78" y="433.00" width="14.0" height="14.0"/><rect x="921.89" y="390.60" width="14.0" height="14.0"/><rect x="961.00" y="351.70" width="14.0" height="14.0"/><rect x="1000.10" y="317.00" width="14.0" height="14.0"/><rect x="1039.20" y="289.10" width="14.0" height="14.0"/><rect x="1078.31" y="272.30" width="14.0" height="14.0"/><rect x="1117.41" y="264.00" width="14.0" height="14.0"/><rect x="1156.52" y="261.50" width="14.0" height="14.0"/><rect x="1195.62" y="260.80" width="14.0" height="14.0"/><rect x="1234.73" y="260.70" width="14.0" height="14.0"/><rect x="1273.84" y="260.70" width="14.0" height="14.0"/><rect x="1312.94" y="260.70" width="14.0" height="14.0"/><rect x="1352.05" y="260.70" width="14.0" height="14.0"/><rect x="1391.15" y="260.70" width="14.0" height="14.0"/><rect x="1430.25" y="260.70" width="14.0" height="14.0"/><rect x="1469.36" y="260.70" width="14.0" height="14.0"/><rect x="1508.46" y="260.70" width="14.0" height="14.0"/><rect x="1547.57" y="260.70" width="14.0" height="14.0"/><rect x="1586.67" y="260.70" width="14.0" height="14.0"/><rect x="1625.78" y="260.70" width="14.0" height="14.0"/><rect x="1664.88" y="260.70" width="14.0" height="14.0"/><rect x="1703.99" y="260.70" width="14.0" height="14.0"/><rect x="1743.10" y="260.70" width="14.0" height="14.0"/><rect x="1782.20" y="260.70" width="14.0" height="14.0"/></g>
<path d="M225.00,1196.50 C234.78,1196.98 244.89,1200.26 254.33,1197.94 C264.49,1195.45 274.14,1187.37 283.66,1180.71 C293.72,1173.68 303.46,1165.38 312.99,1156.56 C323.04,1147.25 332.79,1136.97 342.31,1126.08 C352.37,1114.57 362.01,1101.83 371.64,1089.12 C381.57,1076.03 391.30,1062.41 400.97,1048.60 C410.86,1034.47 420.61,1019.95 430.30,1005.27 C440.17,990.33 449.80,974.74 459.63,959.70 C469.36,944.80 479.12,930.03 488.96,915.45 C498.68,901.04 508.47,886.86 518.29,872.72 C528.03,858.68 537.75,844.60 547.62,830.91 C557.31,817.46 567.18,804.50 576.94,791.27 C586.73,778.02 596.46,764.65 606.27,751.47 C616.02,738.38 625.73,725.20 635.60,712.48 C645.29,700.00 655.14,688.02 664.93,675.85 C674.69,663.73 684.43,651.55 694.26,639.62 C703.98,627.82 713.86,616.47 723.59,604.68 C733.42,592.75 743.08,580.35 752.92,568.46 C762.63,556.71 772.37,545.02 782.25,533.74 C791.93,522.67 801.88,512.38 811.57,501.36 C821.43,490.15 831.08,478.31 840.90,466.99 C850.63,455.79 860.37,444.60 870.23,433.79 C879.92,423.18 889.74,412.91 899.56,402.69 C909.29,392.57 919.07,382.61 928.89,372.77 C938.62,363.02 948.24,352.90 958.22,343.91 C967.81,335.28 977.59,327.17 987.55,319.76 C997.15,312.61 1006.93,305.98 1016.88,300.09 C1026.49,294.40 1036.25,289.02 1046.20,284.91 C1055.81,280.95 1065.67,277.94 1075.53,275.69 C1085.22,273.48 1095.07,272.53 1104.86,271.42 C1114.62,270.31 1124.41,269.60 1134.19,269.04 C1143.96,268.48 1153.74,268.27 1163.52,268.07 C1173.30,267.86 1183.07,267.86 1192.85,267.80 C1202.62,267.74 1212.40,267.72 1222.18,267.70 C1231.95,267.68 1241.73,267.70 1251.51,267.70 C1261.28,267.70 1271.06,267.70 1280.84,267.70 C1290.61,267.70 1300.39,267.70 1310.16,267.70 C1319.94,267.70 1329.72,267.70 1339.49,267.70 C1349.27,267.70 1359.05,267.70 1368.82,267.70 C1378.60,267.70 1388.37,267.70 1398.15,267.70" stroke="#000000" stroke-width="6" fill="none" stroke-linejoin="round"/>
<g fill="#000000"><rect x="218.00" y="1189.50" width="14.0" height="14.0"/><rect x="247.33" y="1190.94" width="14.0" height="14.0"/><rect x="276.66" y="1173.71" width="14.0" height="14.0"/><rect x="305.99" y="1149.56" width="14.0" height="14.0"/><rect x="335.31" y="1119.08" width="14.0" height="14.0"/><rect x="364.64" y="1082.12" width="14.0" height="14.0"/><rect x="393.97" y="1041.60" width="14.0" height="14.0"/><rect x="423.30" y="998.27" width="14.0" height="14.0"/><rect x="452.63" y="952.70" width="14.0" height="14.0"/><rect x="481.96" y="908.45" width="14.0" height="14.0"/><rect x="511.29" y="865.72" width="14.0" height="14.0"/><rect x="540.62" y="823.91" width="14.0" height="14.0"/><rect x="569.94" y="784.27" width="14.0" height="14.0"/><rect x="599.27" y="744.47" width="14.0" height="14.0"/><rect x="628.60" y="705.48" width="14.0" height="14.0"/><rect x="657.93" y="668.85" width="14.0" height="14.0"/><rect x="687.26" y="632.62" width="14.0" height="14.0"/><rect x="716.59" y="597.68" width="14.0" height="14.0"/><rect x="745.92" y="561.46" width="14.0" height="14.0"/><rect x="775.25" y="526.74" width="14.0" height="14.0"/><rect x="804.57" y="494.36" width="14.0" height="14.0"/><rect x="833.90" y="459.99" width="14.0" height="14.0"/><rect x="863.23" y="426.79" width="14.0" height="14.0"/><rect x="892.56" y="395.69" width="14.0" height="14.0"/><rect x="921.89" y="365.77" width="14.0" height="14.0"/><rect x="951.22" y="336.91" width="14.0" height="14.0"/><rect x="980.55" y="312.76" width="14.0" height="14.0"/><rect x="1009.88" y="293.09" width="14.0" height="14.0"/><rect x="1039.20" y="277.91" width="14.0" height="14.0"/><rect x="1068.53" y="268.69" width="14.0" height="14.0"/><rect x="1097.86" y="264.42" width="14.0" height="14.0"/><rect x="1127.19" y="262.04" width="14.0" height="14.0"/><rect x="1156.52" y="261.07" width="14.0" height="14.0"/><rect x="1185.85" y="260.80" width="14.0" height="14.0"/><rect x="1215.18" y="260.70" width="14.0" height="14.0"/><rect x="1244.51" y="260.70" width="14.0" height="14.0"/><rect x="1273.84" y="260.70" width="14.0" height="14.0"/><rect x="1303.16" y="260.70" width="14.0" height="14.0"/><rect x="1332.49" y="260.70" width="14.0" height="14.0"/><rect x="1361.82" y="260.70" width="14.0" height="14.0"/><rect x="1391.15" y="260.70" width="14.0" height="14.0"/></g>
<path d="M225.00,1196.50 C234.78,1197.37 244.79,1200.84 254.33,1199.10 C264.36,1197.28 274.17,1190.83 283.66,1185.00 C293.77,1178.79 303.46,1170.79 312.99,1162.50 C323.04,1153.75 332.81,1144.02 342.31,1133.60 C352.39,1122.55 362.02,1110.18 371.64,1097.80 C381.59,1085.01 391.30,1071.57 400.97,1058.00 C410.86,1044.12 420.63,1029.91 430.30,1015.40 C440.19,1000.56 449.82,984.97 459.63,969.90 C469.37,954.94 479.12,939.98 488.96,925.30 C498.67,910.82 508.49,896.63 518.29,882.40 C528.04,868.23 537.74,853.92 547.62,840.10 C557.30,826.56 567.17,813.57 576.94,800.30 C586.72,787.03 596.49,773.73 606.27,760.50 C616.04,747.30 625.72,733.85 635.60,721.00 C645.27,708.43 655.15,696.44 664.93,684.20 C674.70,671.98 684.41,659.59 694.26,647.60 C703.96,635.79 713.87,624.56 723.59,612.80 C733.42,600.90 743.11,588.57 752.92,576.60 C762.66,564.71 772.33,552.61 782.25,541.20 C791.89,530.10 801.88,519.98 811.57,509.00 C821.44,497.82 831.10,486.05 840.90,474.70 C850.65,463.42 860.37,452.04 870.23,441.10 C879.92,430.35 889.72,419.91 899.56,409.60 C909.28,399.42 919.10,389.55 928.89,379.60 C938.65,369.68 948.25,359.28 958.22,350.00 C967.82,341.06 977.58,332.55 987.55,324.80 C997.15,317.33 1006.94,310.45 1016.88,304.20 C1026.50,298.15 1036.24,292.37 1046.20,287.80 C1055.81,283.40 1065.64,279.71 1075.53,277.10 C1085.19,274.55 1095.06,273.48 1104.86,272.20 C1114.62,270.92 1124.41,270.07 1134.19,269.40 C1143.96,268.73 1153.74,268.47 1163.52,268.20 C1173.29,267.93 1183.07,267.88 1192.85,267.80 C1202.62,267.72 1212.40,267.72 1222.18,267.70 C1231.95,267.68 1241.73,267.70 1251.51,267.70 C1261.28,267.70 1271.06,267.70 1280.84,267.70 C1290.61,267.70 1300.39,267.70 1310.16,267.70 C1319.94,267.70 1329.72,267.70 1339.49,267.70 C1349.27,267.70 1359.05,267.70 1368.82,267.70 C1378.60,267.70 1388.37,267.70 1398.15,267.70 C1407.93,267.70 1417.70,267.70 1427.48,267.70 C1437.25,267.70 1447.03,267.70 1456.81,267.70 C1466.58,267.70 1476.36,267.70 1486.14,267.70 C1495.91,267.70 1505.69,267.70 1515.46,267.70 C1525.24,267.70 1535.02,267.70 1544.79,267.70 C1554.57,267.70 1564.35,267.70 1574.12,267.70 C1583.90,267.70 1593.67,267.70 1603.45,267.70 C1613.23,267.70 1623.00,267.70 1632.78,267.70 C1642.56,267.70 1652.33,267.70 1662.11,267.70 C1671.88,267.70 1681.66,267.70 1691.44,267.70 C1701.21,267.70 1710.99,267.70 1720.77,267.70 C1730.54,267.70 1740.32,267.70 1750.10,267.70 C1759.87,267.70 1769.65,267.70 1779.42,267.70" stroke="#0000ff" stroke-width="6" fill="none" stroke-linejoin="round"/>
<g fill="#0000ff"><rect x="218.00" y="1189.50" width="14.0" height="14.0"/><rect x="247.33" y="1192.10" width="14.0" height="14.0"/><rect x="276.66" y="1178.00" width="14.0" height="14.0"/><rect x="305.99" y="1155.50" width="14.0" height="14.0"/><rect x="335.31" y="1126.60" width="14.0" height="14.0"/><rect x="364.64" y="1090.80" width="14.0" height="14.0"/><rect x="393.97" y="1051.00" width="14.0" height="14.0"/><rect x="423.30" y="1008.40" width="14.0" height="14.0"/><rect x="452.63" y="962.90" width="14.0" height="14.0"/><rect x="481.96" y="918.30" width="14.0" height="14.0"/><rect x="511.29" y="875.40" width="14.0" height="14.0"/><rect x="540.62" y="833.10" width="14.0" height="14.0"/><rect x="569.94" y="793.30" width="14.0" height="14.0"/><rect x="599.27" y="753.50" width="14.0" height="14.0"/><rect x="628.60" y="714.00" width="14.0" height="14.0"/><rect x="657.93" y="677.20" width="14.0" height="14.0"/><rect x="687.26" y="640.60" width="14.0" height="14.0"/><rect x="716.59" y="605.80" width="14.0" height="14.0"/><rect x="745.92" y="569.60" width="14.0" height="14.0"/><rect x="775.25" y="534.20" width="14.0" height="14.0"/><rect x="804.57" y="502.00" width="14.0" height="14.0"/><rect x="833.90" y="467.70" width="14.0" height="14.0"/><rect x="863.23" y="434.10" width="14.0" height="14.0"/><rect x="892.56" y="402.60" width="14.0" height="14.0"/><rect x="921.89" y="372.60" width="14.0" height="14.0"/><rect x="951.22" y="343.00" width="14.0" height="14.0"/><rect x="980.55" y="317.80" width="14.0" height="14.0"/><rect x="1009.88" y="297.20" width="14.0" height="14.0"/><rect x="1039.20" y="280.80" width="14.0" height="14.0"/><rect x="1068.53" y="270.10" width="14.0" height="14.0"/><rect x="1097.86" y="265.20" width="14.0" height="14.0"/><rect x="1127.19" y="262.40" width="14.0" height="14.0"/><rect x="1156.52" y="261.20" width="14.0" height="14.0"/><rect x="1185.85" y="260.80" width="14.0" height="14.0"/><rect x="1215.18" y="260.70" width="14.0" height="14.0"/><rect x="1244.51" y="260.70" width="14.0" height="14.0"/><rect x="1273.84" y="260.70" width="14.0" height="14.0"/><rect x="1303.16" y="260.70" width="14.0" height="14.0"/><rect x="1332.49" y="260.70" width="14.0" height="14.0"/><rect x="1361.82" y="260.70" width="14.0" height="14.0"/><rect x="1391.15" y="260.70" width="14.0" height="14.0"/><rect x="1420.48" y="260.70" width="14.0" height="14.0"/><rect x="1449.81" y="260.70" width="14.0" height="14.0"/><rect x="1479.14" y="260.70" width="14.0" height="14.0"/><rect x="1508.46" y="260.70" width="14.0" height="14.0"/><rect x="1537.79" y="260.70" width="14.0" height="14.0"/><rect x="1567.12" y="260.70" width="14.0" height="14.0"/><rect x="1596.45" y="260.70" width="14.0" height="14.0"/><rect x="1625.78" y="260.70" width="14.0" height="14.0"/><rect x="1655.11" y="260.70" width="14.0" height="14.0"/><rect x="1684.44" y="260.70" width="14.0" height="14.0"/><rect x="1713.77" y="260.70" width="14.0" height="14.0"/><rect x="1743.10" y="260.70" width="14.0" height="14.0"/><rect x="1772.42" y="260.70" width="14.0" height="14.0"/></g>
</g>
<g stroke="#000" stroke-width="4.8" stroke-linecap="square"><rect x="226.20" y="36.20" width="1562.40" height="1255.10" fill="none" stroke="#000" stroke-width="4.8"/>
<line x1="226.20" y1="1291.30" x2="226.20" y2="1313.80"/>
<line x1="323.85" y1="1291.30" x2="323.85" y2="1299.80"/>
<line x1="421.50" y1="1291.30" x2="421.50" y2="1313.80"/>
<line x1="519.15" y1="1291.30" x2="519.15" y2="1299.80"/>
<line x1="616.80" y1="1291.30" x2="616.80" y2="1313.80"/>
<line x1="714.45" y1="1291.30" x2="714.45" y2="1299.80"/>
<line x1="812.10" y1="1291.30" x2="812.10" y2="1313.80"/>
<line x1="909.75" y1="1291.30" x2="909.75" y2="1299.80"/>
<line x1="1007.40" y1="1291.30" x2="1007.40" y2="1313.80"/>
<line x1="1105.05" y1="1291.30" x2="1105.05" y2="1299.80"/>
<line x1="1202.70" y1="1291.30" x2="1202.70" y2="1313.80"/>
<line x1="1300.35" y1="1291.30" x2="1300.35" y2="1299.80"/>
<line x1="1398.00" y1="1291.30" x2="1398.00" y2="1313.80"/>
<line x1="1495.65" y1="1291.30" x2="1495.65" y2="1299.80"/>
<line x1="1593.30" y1="1291.30" x2="1593.30" y2="1313.80"/>
<line x1="1690.95" y1="1291.30" x2="1690.95" y2="1299.80"/>
<line x1="1788.60" y1="1291.30" x2="1788.60" y2="1313.80"/>
<line x1="226.20" y1="1291.50" x2="201.90" y2="1291.50"/>
<line x1="226.20" y1="1112.08" x2="215.70" y2="1112.08"/>
<line x1="226.20" y1="932.67" x2="201.90" y2="932.67"/>
<line x1="226.20" y1="753.25" x2="215.70" y2="753.25"/>
<line x1="226.20" y1="573.83" x2="201.90" y2="573.83"/>
<line x1="226.20" y1="394.42" x2="215.70" y2="394.42"/>
<line x1="226.20" y1="215.00" x2="201.90" y2="215.00"/>
<line x1="226.20" y1="35.58" x2="215.70" y2="35.58"/>
<line x1="1788.60" y1="1197.70" x2="1811.40" y2="1197.70"/>
<line x1="1788.60" y1="1081.52" x2="1797.30" y2="1081.52"/>
<line x1="1788.60" y1="965.34" x2="1811.40" y2="965.34"/>
<line x1="1788.60" y1="849.16" x2="1797.30" y2="849.16"/>
<line x1="1788.60" y1="732.98" x2="1811.40" y2="732.98"/>
<line x1="1788.60" y1="616.80" x2="1797.30" y2="616.80"/>
<line x1="1788.60" y1="500.62" x2="1811.40" y2="500.62"/>
<line x1="1788.60" y1="384.44" x2="1797.30" y2="384.44"/>
<line x1="1788.60" y1="268.26" x2="1811.40" y2="268.26"/>
<line x1="1788.60" y1="152.08" x2="1797.30" y2="152.08"/>
<line x1="1788.60" y1="35.90" x2="1811.40" y2="35.90"/></g>
<g font-size="53"><text x="226.20" y="1373" text-anchor="middle">0</text>
<text x="421.50" y="1373" text-anchor="middle">50</text>
<text x="616.80" y="1373" text-anchor="middle">100</text>
<text x="812.10" y="1373" text-anchor="middle">150</text>
<text x="1007.40" y="1373" text-anchor="middle">200</text>
<text x="1202.70" y="1373" text-anchor="middle">250</text>
<text x="1398.00" y="1373" text-anchor="middle">300</text>
<text x="1593.30" y="1373" text-anchor="middle">350</text>
<text x="1788.60" y="1373" text-anchor="middle">400</text>
<text x="184" y="1306.00" text-anchor="end">700</text>
<text x="184" y="947.17" text-anchor="end">750</text>
<text x="184" y="588.33" text-anchor="end">800</text>
<text x="184" y="229.50" text-anchor="end">850</text>
<text x="1831" y="1212.90">0.00</text>
<text x="1831" y="980.54">0.25</text>
<text x="1831" y="748.18">0.50</text>
<text x="1831" y="515.82">0.75</text>
<text x="1831" y="283.46">1.00</text>
<text x="1831" y="51.10">1.25</text></g>
<text x="1007.8" y="1479" font-size="66" text-anchor="middle">Time (minute)</text><text transform="translate(61,662.8) rotate(-90)" font-size="66" text-anchor="middle">Temperature (K)</text><text transform="translate(1997,663.5) rotate(-90)" font-size="66" text-anchor="middle">Conversion (-)</text>
<line x1="1203" y1="934.30" x2="1316" y2="934.30" stroke="#ff0000" stroke-width="5.5"/>
<text transform="translate(1326,950.90) scale(0.951,1)" font-size="50">Temperature-PFHS</text>
<line x1="1203" y1="993.00" x2="1316" y2="993.00" stroke="#000000" stroke-width="5.5"/>
<text transform="translate(1326,1009.60) scale(0.951,1)" font-size="50">Temperature-PPFHS</text>
<line x1="1203" y1="1052.00" x2="1316" y2="1052.00" stroke="#0000ff" stroke-width="2.6"/>
<text transform="translate(1326,1068.60) scale(0.951,1)" font-size="50">Temperature-HPPFHS</text>
<line x1="1203" y1="1110.80" x2="1316" y2="1110.80" stroke="#ff0000" stroke-width="5.0"/>
<rect x="1252.90" y="1103.80" width="14.0" height="14.0" fill="#ff0000"/>
<text transform="translate(1326,1127.40) scale(0.951,1)" font-size="50">Conversion-PFHS</text>
<line x1="1203" y1="1169.60" x2="1316" y2="1169.60" stroke="#000000" stroke-width="5.0"/>
<rect x="1252.90" y="1162.60" width="14.0" height="14.0" fill="#000000"/>
<text transform="translate(1326,1186.20) scale(0.951,1)" font-size="50">Conversion-PPFHS</text>
<line x1="1203" y1="1229.20" x2="1316" y2="1229.20" stroke="#0000ff" stroke-width="5.0"/>
<rect x="1252.90" y="1222.20" width="14.0" height="14.0" fill="#0000ff"/>
<text transform="translate(1326,1245.80) scale(0.951,1)" font-size="50">Conversion-HPPFHS</text>
</svg>
</div>
</body></html>
